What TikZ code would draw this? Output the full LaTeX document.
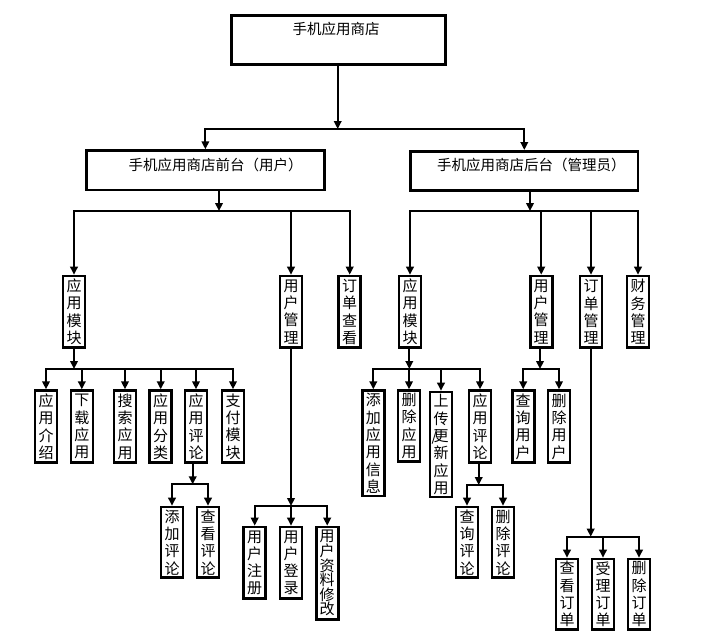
\documentclass[tikz,border=0pt]{standalone}
\usepackage{fontspec}
\newfontfamily\cjk{Noto Sans CJK SC}
\usetikzlibrary{arrows.meta}
\tikzset{
  box/.style={draw, line width=2.6pt, inner sep=0pt},
  htxt/.style={inner sep=0pt, font=\cjk\fontsize{14.5}{17}\selectfont},
  vbox/.style={draw, line width=2.6pt, inner sep=0pt, minimum width=22pt, align=center,
    font=\cjk\fontsize{15}{17.3}\selectfont},
  tight/.style={font=\cjk\fontsize{15}{14.6}\selectfont},
  arr/.style={line width=2pt, -{Triangle[length=8pt,width=7.5pt]}},
  ln/.style={line width=2pt}
}
\begin{document}
\begin{tikzpicture}[x=1pt,y=-1pt]
\useasboundingbox[fill=white] (0,0) rectangle (709,638);
% level 0
\node[box, minimum width=214.4pt, minimum height=49.1pt] (root) at (338.5,39.85) {};
\node[htxt] (roottxt) at (336,29.3) {手机应用商店};
% level 1
\node[box, minimum width=238.1pt, minimum height=39.4pt] (front) at (205.35,170.3) {};
\node[htxt] (fronttxt) at (215.5,165) {手机应用商店前台（用户）};
\node[box, minimum width=227.4pt, minimum height=39.1pt] (back) at (524.3,170.85) {};
\node[htxt] (backtxt) at (531.3,165) {手机应用商店后台（管理员）};
% level 2
\node[vbox, minimum height=71.7pt] (fapp) at (74,311.85) {应\\用\\模\\块};
\node[vbox, minimum height=71.7pt] (fuser) at (291,311.85) {用\\户\\管\\理};
\node[vbox, minimum height=71.7pt] (forder) at (349.7,311.85) {订\\单\\查\\看};
\node[vbox, minimum height=71.7pt] (bapp) at (410,311.85) {应\\用\\模\\块};
\node[vbox, minimum height=71.7pt] (buser) at (541.2,311.85) {用\\户\\管\\理};
\node[vbox, minimum height=71.7pt] (border) at (591,311.85) {订\\单\\管\\理};
\node[vbox, minimum height=71.7pt] (bfin) at (638,311.85) {财\\务\\管\\理};
% level 3 front
\node[vbox, minimum height=72.1pt] (f1) at (46,426.65) {应\\用\\介\\绍};
\node[vbox, minimum height=72.1pt] (f2) at (81.8,426.65) {下\\载\\应\\用};
\node[vbox, minimum height=72.1pt] (f3) at (125,426.65) {搜\\索\\应\\用};
\node[vbox, minimum height=72.1pt] (f4) at (160.7,426.65) {应\\用\\分\\类};
\node[vbox, minimum height=72.1pt] (f5) at (196,426.65) {应\\用\\评\\论};
\node[vbox, minimum height=72.1pt] (f6) at (233,426.65) {支\\付\\模\\块};
% level 3 back
\node[vbox, minimum height=105.4pt] (b1) at (373.3,443.3) {添\\加\\应\\用\\信\\息};
\node[vbox, minimum height=70.8pt] (b2) at (409,426) {删\\除\\应\\用};
\node[vbox, minimum height=105pt] (b3) at (441,444.5) {上\\传\\\makebox[0pt][r]{/\kern-4pt}更\\新\\应\\用};
\node[vbox, minimum height=72.1pt] (b4) at (480,426.65) {应\\用\\评\\论};
\node[vbox, minimum height=72.1pt] (bu1) at (523.2,426.65) {查\\询\\用\\户};
\node[vbox, minimum height=72.1pt] (bu2) at (559,426.65) {删\\除\\用\\户};
% level 4
\node[vbox, minimum height=70.7pt] (fc1) at (172,542.35) {添\\加\\评\\论};
\node[vbox, minimum height=70.7pt] (fc2) at (208,542.35) {查\\看\\评\\论};
\node[vbox, minimum height=71.7pt] (fu1) at (254.7,562.85) {用\\户\\注\\册};
\node[vbox, minimum height=71.7pt] (fu2) at (291,562.85) {用\\户\\登\\录};
\node[vbox, tight, minimum height=92.4pt] (fu3) at (327.2,573.2) {用\\户\\资\\料\\修\\改};
\node[vbox, minimum height=70.7pt] (bc1) at (467,542.35) {查\\询\\评\\论};
\node[vbox, minimum height=70.7pt] (bc2) at (503,542.35) {删\\除\\评\\论};
\node[vbox, minimum height=70.4pt] (bo1) at (567,594.2) {查\\看\\订\\单};
\node[vbox, minimum height=70.4pt] (bo2) at (603,594.2) {受\\理\\订\\单};
\node[vbox, minimum height=70.4pt] (bo3) at (639,594.2) {删\\除\\订\\单};
% junctions
\coordinate (j0) at (337.7,129);
\coordinate (j1) at (219,211);
\coordinate (j2) at (530,211);
\coordinate (j3) at (74,369);
\coordinate (j4) at (409.3,369);
\coordinate (j5) at (540,369);
\coordinate (j6) at (192.7,484.3);
\coordinate (j7) at (291,506);
\coordinate (j8) at (478.7,485);
\coordinate (j9) at (590.7,536.7);
% connectors
\draw[arr] (root.south -| j0) -- (j0);
\draw[arr] (j0) -| (front.north);
\draw[arr] (j0) -| (back.north);
\draw[arr] (front.south -| j1) -- (j1);
\draw[arr] (j1) -| (fapp.north);
\draw[arr] (j1) -| (fuser.north);
\draw[arr] (j1) -| (forder.north);
\draw[arr] (back.south -| j2) -- (j2);
\draw[arr] (j2) -| (bapp.north);
\draw[arr] (j2) -| (buser.north);
\draw[arr] (j2) -| (border.north);
\draw[arr] (j2) -| (bfin.north);
\draw[arr] (fapp.south -| j3) -- (j3);
\foreach \c in {f1,f2,f3,f4,f5,f6} \draw[arr] (j3) -| (\c.north);
\draw[arr] (bapp.south -| j4) -- (j4);
\foreach \c in {b1,b2,b3,b4} \draw[arr] (j4) -| (\c.north);
\draw[arr] (buser.south -| j5) -- (j5);
\foreach \c in {bu1,bu2} \draw[arr] (j5) -| (\c.north);
\draw[arr] (f5.south -| j6) -- (j6);
\foreach \c in {fc1,fc2} \draw[arr] (j6) -| (\c.north);
\draw[arr] (fuser.south -| j7) -- (j7);
\foreach \c in {fu1,fu2,fu3} \draw[arr] (j7) -| (\c.north);
\draw[arr] (b4.south -| j8) -- (j8);
\foreach \c in {bc1,bc2} \draw[arr] (j8) -| (\c.north);
\draw[arr] (border.south -| j9) -- (j9);
\foreach \c in {bo1,bo2,bo3} \draw[arr] (j9) -| (\c.north);
\end{tikzpicture}
\end{document}
